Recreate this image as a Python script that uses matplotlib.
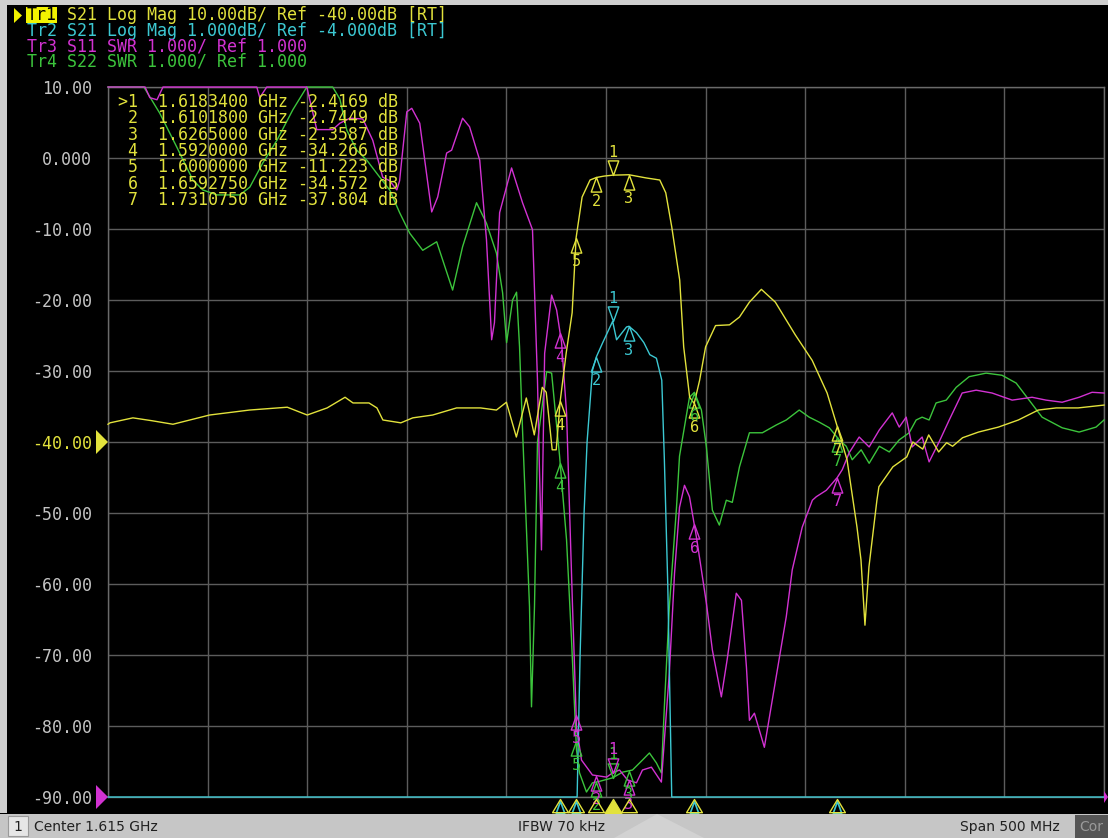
import numpy as np
import matplotlib
matplotlib.use("Agg")
import matplotlib.pyplot as plt
from matplotlib.path import Path
from matplotlib.patches import Rectangle, Polygon
from matplotlib.transforms import offset_copy

# ---------------- data (frequency in MHz) ----------------
# Tr1: S21 Log Mag, 10 dB/div, ref -40 dB
tr1_pts = [(1365,-37.5),(1366,-37.3),(1377.5,-36.6),(1387,-37.0),(1397.6,-37.5),(1416,-36.2),(1436,-35.5),
           (1455,-35.1),(1465,-36.2),(1475,-35.2),(1484,-33.7),(1488,-34.5),(1496,-34.5),(1500,-35.2),
           (1503,-36.9),(1512,-37.3),(1518,-36.6),(1528,-36.2),(1540,-35.2),(1552,-35.2),(1560,-35.5),
           (1565,-34.4),(1570,-39.3),(1575,-33.8),(1579,-39.0),(1583,-32.3),(1585,-33.0),(1588,-41.1),
           (1590,-41.1),(1592,-34.266),(1595,-27.5),(1598,-21.8),(1600,-11.223),(1603,-5.5),(1607,-3.1),
           (1610.18,-2.7449),(1614,-2.55),(1618.34,-2.4169),(1626.5,-2.3587),(1635,-2.8),(1642,-3.1),
           (1645,-4.9),(1648,-9.7),(1652,-17.2),(1654,-26.6),(1657,-33.7),(1659.275,-34.572),(1662,-31.3),
           (1665,-26.6),(1670,-23.6),(1677,-23.5),(1682,-22.4),(1687,-20.3),(1693,-18.5),(1700,-20.3),
           (1710,-24.9),(1718.5,-28.5),(1726,-33.1),(1731.075,-37.804),(1736,-42.5),(1741,-52.0),
           (1743,-56.6),(1745,-65.8),(1747,-57.6),(1751,-48.2),(1752,-46.3),(1759,-43.5),(1766,-42.1),
           (1769,-40.0),(1774,-41.0),(1777,-39.0),(1782,-41.4),(1786,-40.1),(1789,-40.6),(1794,-39.4),
           (1802,-38.6),(1812,-37.9),(1822,-36.9),(1832,-35.5),(1841,-35.2),(1852,-35.2),(1865,-34.8)]

# Tr2: S21 Log Mag, 1 dB/div, ref -4 dB
tr2_pts = [(1365,-12.0),(1600.0,-12.0),(1600.5,-9.0),(1602,-7.0),(1604,-5.0),(1605.5,-4.0),(1608.2,-2.99),
           (1610.18,-2.80),(1613.2,-2.61),(1618.34,-2.30),(1620.3,-2.56),(1625.3,-2.38),(1626.5,-2.37),
           (1630.3,-2.46),(1634,-2.60),(1637,-2.77),(1640.3,-2.82),(1643,-3.13),(1644.3,-4.25),
           (1646,-6.0),(1648,-9.0),(1648.5,-12.0),(1865,-12.0)]

# Tr3: S11 SWR, 1/div, ref 1.000
tr3_pts = [(1365,12),(1383.6,12),(1386,10.85),(1389.6,10.82),(1392.6,11.5),(1439.7,11.5),(1441.2,10.85),
           (1444.7,11.5),(1464.8,11.5),(1469.8,10.4),(1477.8,10.4),(1481.4,10.49),(1486.4,10.56),
           (1492.9,10.55),(1494.9,10.43),(1497.9,10.25),(1502.9,9.73),(1506.4,9.68),(1510,9.55),
           (1511.4,9.68),(1512.4,9.96),(1515,10.65),(1517.5,10.7),(1521.5,10.49),(1527.5,9.24),
           (1530.5,9.45),(1535,10.07),(1537.5,10.11),(1543,10.56),(1546.5,10.44),(1551.6,9.97),
           (1555,8.85),(1557.6,7.44),(1559,7.68),(1561.6,9.23),(1567.6,9.86),(1573.1,9.37),(1578.1,8.99),
           (1580.6,6.87),(1581.6,5.6),(1582.6,4.48),(1584.2,7.25),(1587.7,8.07),(1590.2,7.86),
           (1592.7,7.4),(1595.2,6.41),(1598.2,3.68),(1600.2,1.99),(1602.7,1.52),(1608.2,1.31),
           (1615.3,1.28),(1618.3,1.34),(1621.8,1.38),(1625.8,1.24),(1630.3,1.2),(1633.3,1.38),
           (1637.8,1.42),(1642.8,1.21),(1644.3,1.8),(1646.8,2.75),(1649.4,4.15),(1651.9,5.08),
           (1654.4,5.39),(1656.9,5.23),(1660.4,4.66),(1665.4,3.73),(1668.4,3.07),(1672.9,2.41),
           (1675.9,2.95),(1680.4,3.87),(1683,3.77),(1685.5,2.83),(1687,2.08),(1689.5,2.18),(1694.5,1.7),
           (1698.5,2.37),(1705.5,3.54),(1708.5,4.2),(1713.5,4.8),(1718.6,5.18),(1720.6,5.23),
           (1725.6,5.32),(1731.1,5.5),(1733.6,5.61),(1737.1,5.85),(1742.1,6.07),(1747.1,5.93),
           (1752.2,6.17),(1758.7,6.41),(1762.2,6.21),(1765.7,6.35),(1768.7,5.93),(1773.7,6.07),
           (1777.2,5.72),(1782.2,6.0),(1787.3,6.31),(1793.8,6.69),(1800.8,6.73),(1808.8,6.69),
           (1818.9,6.59),(1828.9,6.63),(1835.9,6.59),(1844,6.56),(1852.5,6.63),(1859,6.7),(1865,6.69)]

# Tr4: S22 SWR, 1/div, ref 1.000
tr4_pts = [(1365,12),(1383,11.1),(1391,10.63),(1399.6,10.15),(1407.6,9.69),(1412.6,9.55),(1419.7,9.48),
           (1431.2,9.48),(1436.2,9.59),(1442.7,9.93),(1449.8,10.25),(1457.8,10.68),(1464.8,11.2),
           (1477.8,11.2),(1481.4,10.83),(1484.9,10.39),(1489.9,10.11),(1494.9,9.97),(1501.4,9.73),
           (1506.4,9.55),(1511.4,9.23),(1516.5,8.94),(1523,8.7),(1530,8.82),(1538,8.14),(1543,8.75),
           (1550,9.37),(1555,9.08),(1560,8.66),(1563.1,8.1),(1565.1,7.4),(1568.1,8.0),(1570.1,8.11),
           (1571.6,7.34),(1573.1,6.17),(1576.6,3.68),(1577.6,2.27),(1579.1,3.68),(1580.6,6.0),
           (1585.2,6.99),(1587.7,6.97),(1591.7,5.8),(1595.2,4.62),(1597.7,3.21),(1599.2,2.27),
           (1600.2,1.66),(1601.7,1.34),(1605.2,1.07),(1608.2,1.2),(1611.7,1.22),(1618.3,1.27),
           (1623.3,1.35),(1628.3,1.38),(1633.3,1.52),(1636.8,1.62),(1640.3,1.48),(1642.8,1.34),
           (1644.3,2.27),(1646.8,3.68),(1650.4,5.08),(1651.9,5.8),(1656.9,6.63),(1659.4,6.7),
           (1662.9,6.45),(1665.4,5.93),(1668.4,5.04),(1671.9,4.83),(1675.4,5.18),(1678.4,5.15),
           (1682,5.65),(1687,6.13),(1693.5,6.13),(1700.5,6.24),(1705.5,6.31),(1712,6.45),(1717,6.35),
           (1722,6.28),(1727.1,6.2),(1732.1,6.03),(1735.6,5.94),(1738.6,5.75),(1743.1,5.89),
           (1747.1,5.7),(1752.2,5.94),(1757.2,5.86),(1762.2,6.03),(1767.2,6.13),(1770.7,6.31),
           (1773.7,6.35),(1777.2,6.31),(1780.7,6.55),(1785.8,6.59),(1790.8,6.77),(1797.3,6.92),
           (1805.8,6.97),(1813.8,6.94),(1820.9,6.83),(1827.4,6.59),(1833.9,6.35),(1844,6.2),
           (1852.5,6.14),(1861,6.21),(1865,6.31)]

marker_freq_ghz = [1.6183400, 1.6101800, 1.6265000, 1.5920000, 1.6000000, 1.6592750, 1.7310750]
marker_db = [-2.4169, -2.7449, -2.3587, -34.266, -11.223, -34.572, -37.804]

header_lines = ["Tr1 S21 Log Mag 10.00dB/ Ref -40.00dB [RT]",
                "Tr2 S21 Log Mag 1.000dB/ Ref -4.000dB [RT]",
                "Tr3 S11 SWR 1.000/ Ref 1.000",
                "Tr4 S22 SWR 1.000/ Ref 1.000"]
# (scale per div, ref value, ref position on display grid)
trace_scales = [(10.0, -40.0, -40.0), (1.0, -4.0, -40.0), (1.0, 1.0, -90.0), (1.0, 1.0, -90.0)]
trace_colors = ["#e2e23c", "#3cc8d2", "#d232d2", "#3cc43c"]

center_mhz, span_mhz = 1615.0, 500.0
ytick_vals = [10, 0, -10, -20, -30, -40, -50, -60, -70, -80, -90]
status_left, status_mid, status_right = "Center 1.615 GHz", "IFBW 70 kHz", "Span 500 MHz"

# ---------------- figure ----------------
W, H = 1108, 838
fig = plt.figure(figsize=(W / 100, H / 100), dpi=100, facecolor="black")
MONO = "DejaVu Sans Mono"

def fx(x):
    return x / W

def fy(y):
    return 1 - y / H

# frame strips
fig.patches.append(Rectangle((0, fy(813)), fx(7), 1 - fy(813), transform=fig.transFigure,
                             facecolor="#cfcfcf", edgecolor="none", zorder=0))
fig.patches.append(Rectangle((0, fy(5)), 1, fy(0) - fy(5), transform=fig.transFigure,
                             facecolor="#cfcfcf", edgecolor="none", zorder=0))

ax = fig.add_axes([fx(108), fy(797), (1104 - 108) / W, (797 - 87) / H])
ax.set_facecolor("black")
f0, f1 = center_mhz - span_mhz / 2, center_mhz + span_mhz / 2
ax.set_xlim(f0, f1)
ax.set_ylim(-90, 10)
ax.set_xticks(np.linspace(f0, f1, 11))
ax.set_yticks(ytick_vals)
ax.set_yticklabels(["0.000" if v == 0 else f"{v:.2f}" for v in ytick_vals])
ax.grid(True, color="#5c5c5c", lw=1.0)
ax.set_axisbelow(True)
for s in ax.spines.values():
    s.set_color("#6a6a6a")
    s.set_linewidth(1.0)
ax.tick_params(length=0, labelbottom=False, pad=11.5)
for lab, v in zip(ax.get_yticklabels(), ytick_vals):
    lab.set_fontfamily(MONO)
    lab.set_fontsize(12)
    lab.set_color("#e2e23c" if v == -40 else "#c4c4c4")


def to_disp(vals, scale):
    per_div, ref, ref_pos = scale
    return ref_pos + (np.asarray(vals) - ref) / per_div * 10.0


traces = [tr1_pts, tr2_pts, tr3_pts, tr4_pts]
order = [3, 2, 0, 1]
disp = {}
for k in range(4):
    f = np.array([p[0] for p in traces[k]])
    v = np.array([p[1] for p in traces[k]])
    disp[k] = (f, to_disp(v, trace_scales[k]))

z = {3: 3, 2: 4, 0: 5, 1: 6}
for k in order:
    f, d = disp[k]
    ax.plot(f, np.clip(d, -90, 10), color=trace_colors[k], lw=1.0, zorder=z[k], clip_on=False)

# marker shapes (tip at data point)
mk_down = Path([(0, 0), (-0.36, 1), (0.36, 1), (0, 0)],
               [Path.MOVETO, Path.LINETO, Path.LINETO, Path.CLOSEPOLY])
mk_up = Path([(0, 0), (-0.36, -1), (0.36, -1), (0, 0)],
             [Path.MOVETO, Path.LINETO, Path.LINETO, Path.CLOSEPOLY])
mk_stim = Path([(0, 0), (-0.6, -1), (0.6, -1), (0, 0)],
               [Path.MOVETO, Path.LINETO, Path.LINETO, Path.CLOSEPOLY])

marker_mhz = [g * 1000 for g in marker_freq_ghz]
for k in order:
    f, d = disp[k]
    for i, fm in enumerate(marker_mhz):
        y = np.interp(fm, f, d)
        if y < -90.5 or y > 10:
            continue
        y = max(y, -90)
        active = (i == 0)
        ax.plot([fm], [y], marker=mk_down if active else mk_up, ms=21, mfc="none",
                mec=trace_colors[k], mew=1.0, zorder=10, clip_on=False)
        ax.annotate(str(i + 1), xy=(fm, y), xytext=(0, 23 if active else -24),
                    textcoords="offset pixels", ha="center", va="center",
                    color=trace_colors[k], fontsize=11, family=MONO, zorder=11,
                    annotation_clip=False)

# stimulus marker row under the grid
t_cy = offset_copy(ax.transData, fig=fig, x=0, y=-4, units="dots")
t_yl = offset_copy(ax.transData, fig=fig, x=0, y=-2, units="dots")
f2, d2 = disp[1]
for i, fm in enumerate(marker_mhz):
    if np.interp(fm, f2, d2) < -90:
        ax.plot([fm], [-90], marker=mk_up, ms=17, mfc="none", mec=trace_colors[1], mew=1.2,
                transform=t_cy, clip_on=False, zorder=12)
    ax.plot([fm], [-90], marker=mk_stim, ms=20 if i == 0 else 19,
            mfc=trace_colors[0] if i == 0 else "none", mec=trace_colors[0], mew=1.0,
            transform=t_yl, clip_on=False, zorder=13)

# reference position pointers
fig.patches.append(Polygon([(fx(96), fy(430)), (fx(96), fy(454)), (fx(108), fy(442))], closed=True,
                           transform=fig.transFigure, facecolor=trace_colors[0], edgecolor="none"))
fig.patches.append(Polygon([(fx(96), fy(785)), (fx(96), fy(809)), (fx(108), fy(797))], closed=True,
                           transform=fig.transFigure, facecolor=trace_colors[2], edgecolor="none"))
fig.patches.append(Polygon([(fx(1104), fy(791)), (fx(1104), fy(803)), (fx(1108), fy(797))], closed=True,
                           transform=fig.transFigure, facecolor=trace_colors[2], edgecolor="none"))

# header
CW = 10.03
hy = [15.5, 31, 46.5, 62]
fig.patches.append(Rectangle((fx(26), fy(23.5)), fx(31), fy(7.5) - fy(23.5), transform=fig.transFigure,
                             facecolor="#f2f200", edgecolor="none", zorder=1))
fig.patches.append(Polygon([(fx(14), fy(8)), (fx(14), fy(23)), (fx(22), fy(15.5))], closed=True,
                           transform=fig.transFigure, facecolor="#f2f200", edgecolor="none"))
for k, line in enumerate(header_lines):
    if k == 0:
        fig.text(fx(27), fy(hy[k]), line[:3], color="black", family=MONO, fontsize=12,
                 va="center", ha="left", zorder=5)
        fig.text(fx(27 + 3 * CW), fy(hy[k]), line[3:], color=trace_colors[k], family=MONO,
                 fontsize=12, va="center", ha="left")
    else:
        fig.text(fx(27), fy(hy[k]), line, color=trace_colors[k], family=MONO, fontsize=12,
                 va="center", ha="left")

# marker table
for i, (fg, v) in enumerate(zip(marker_freq_ghz, marker_db)):
    s = f"{'>' if i == 0 else ' '}{i + 1}  {fg:.7f} GHz {v:.5g} dB"
    fig.text(fx(118), fy(101.7 + i * 16.4), s, color=trace_colors[0], family=MONO, fontsize=12,
             va="center", ha="left", zorder=20)

# status bar
fig.patches.append(Rectangle((0, 0), 1, fy(814), transform=fig.transFigure,
                             facecolor="#c6c6c6", edgecolor="none"))
fig.patches.append(Polygon([(fx(614), 0), (fx(704), 0), (fx(657), fy(814))], closed=True,
                           transform=fig.transFigure, facecolor="#d2d2d2", edgecolor="none"))
fig.patches.append(Rectangle((fx(8), fy(836)), fx(20), fy(816) - fy(836), transform=fig.transFigure,
                             facecolor="#e6e6e6", edgecolor="#9a9a9a", lw=0.8))
fig.patches.append(Rectangle((fx(1075), 0), fx(33), fy(815), transform=fig.transFigure,
                             facecolor="#555555", edgecolor="none"))
sb_y = fy(826.5)
fig.text(fx(18), sb_y, "1", color="#202020", fontsize=10, ha="center", va="center")
fig.text(fx(34), sb_y, status_left, color="#202020", fontsize=10, ha="left", va="center")
fig.text(fx(562), sb_y, status_mid, color="#202020", fontsize=10, ha="center", va="center")
fig.text(fx(1060), sb_y, status_right, color="#202020", fontsize=10, ha="right", va="center")
fig.text(fx(1091), sb_y, "Cor", color="#9a9a9a", fontsize=10, ha="center", va="center")

fig.savefig("out.png", dpi=100, facecolor="black")
